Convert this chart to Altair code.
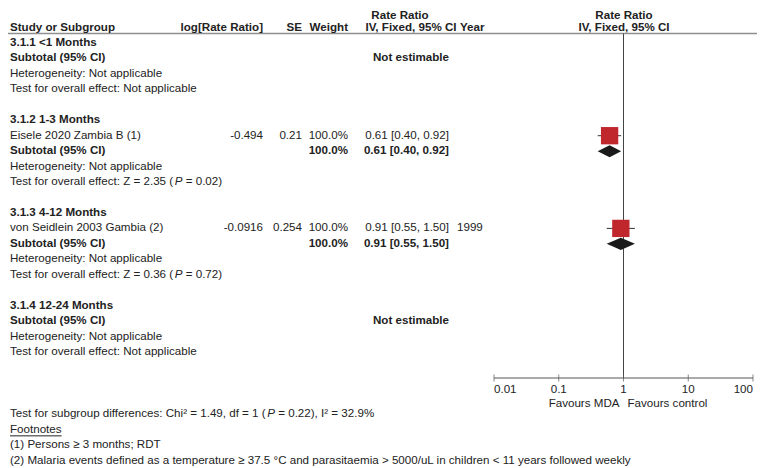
import altair as alt
import pandas as pd

# ---------------- data ----------------
group_titles = ["3.1.1 <1 Months", "3.1.2 1-3 Months", "3.1.3 4-12 Months", "3.1.4 12-24 Months"]
group_rows = [0, 5, 11, 17]

study_names = ["Eisele 2020 Zambia B (1)", "von Seidlein 2003 Gambia (2)"]
study_rows = [6, 12]
study_log_rr = ["-0.494", "-0.0916"]
study_se = ["0.21", "0.254"]
study_weight = ["100.0%", "100.0%"]
study_ci_text = ["0.61 [0.40, 0.92]", "0.91 [0.55, 1.50]"]
study_year = ["", "1999"]
study_rr = [0.61, 0.91]
study_lo = [0.40, 0.55]
study_hi = [0.92, 1.50]

subtotal_rows = [1, 7, 13, 18]
subtotal_weight = ["", "100.0%", "100.0%", ""]
subtotal_ci_text = ["Not estimable", "0.61 [0.40, 0.92]", "0.91 [0.55, 1.50]", "Not estimable"]

pooled_rows = [7, 13]
pooled_rr = [0.61, 0.91]
pooled_lo = [0.40, 0.55]
pooled_hi = [0.92, 1.50]

het_rows = [2, 8, 14, 19]
het_text = ["Heterogeneity: Not applicable"] * 4

plain_test_rows = [3, 20]
plain_test_text = ["Test for overall effect: Not applicable"] * 2

p_rows = [9, 15, 24]
p_prefix = ["Test for overall effect: Z = 2.35 (",
            "Test for overall effect: Z = 0.36 (",
            "Test for subgroup differences: Chi² = 1.49, df = 1 ("]
p_suffix = ["= 0.02)", "= 0.72)", "= 0.22), I² = 32.9%"]

footnote_title = "Footnotes"
footnote_title_row = 25
footnote_rows = [26, 27]
footnote_text = ["(1) Persons ≥ 3 months; RDT",
                 "(2) Malaria events defined as a temperature ≥ 37.5 °C and parasitaemia > 5000/uL in children < 11 years followed weekly"]

axis_ticks = [0.01, 0.1, 1, 10, 100]
axis_labels = ["0.01", "0.1", "1", "10", "100"]
null_value = [1]
favours_left = ["Favours MDA"]
favours_right = ["Favours control"]

# ---------------- style ----------------
FONT = "Liberation Sans"
FS = 11.6
TXT = "#222222"
AXC = "#555555"
W, H, PB = 749, 370, 88
DH = 0.39  # half height of diamond in row units

# Arial / Liberation Sans advance widths (1/1000 em)
AW = {' ': 278, '(': 333, ')': 333, '.': 278, ',': 278, ':': 278, '=': 584, '%': 889,
      '²': 333, '≥': 549, '°': 400, '<': 584, '>': 584, '/': 278, ';': 278, '[': 278,
      ']': 278, '-': 333}
for d in "0123456789":
    AW[d] = 556
AW.update(dict(zip("ABCDEFGHIJKLMNOPQRSTUVWXYZ",
                   [667, 667, 722, 722, 667, 611, 778, 722, 278, 500, 667, 556, 833, 722, 778,
                    667, 778, 722, 667, 611, 722, 667, 944, 667, 667, 611])))
AW.update(dict(zip("abcdefghijklmnopqrstuvwxyz",
                   [556, 556, 500, 556, 556, 278, 556, 556, 222, 222, 500, 222, 833, 556, 556,
                    556, 556, 333, 500, 278, 556, 500, 722, 500, 500, 500])))


def tw(s):
    return sum(AW.get(c, 556) for c in s) * FS / 1000.0


xscale = alt.Scale(type="log", domain=[0.01, 100], range=[486, 745])
yscale = alt.Scale(domain=[0, 20, 27], range=[35, 344, 453])

X_LEFT = 2
X_LOGRR = 255
X_SE = 294
X_WEIGHT = 340
X_CI = 441
X_CI_CENTER = 403
X_YEAR = 449
X_YEAR_HEAD = 452
X_FOREST = 616
Y_HEAD1 = 10.5
Y_HEAD2 = 22.5
Y_RULE = 25.5
Y_AXIS_LABEL = 382
Y_FAVOURS = 396


def tlayer(df, x, align="left", bold=False, italic=False, y=None, baseline="middle"):
    enc = dict(text="t:N", x=alt.value(x))
    if y is None:
        enc["y"] = alt.Y("row:Q", scale=yscale, axis=None)
    else:
        enc["y"] = alt.value(y)
    return alt.Chart(df).mark_text(
        align=align, baseline=baseline, font=FONT, fontSize=FS,
        fontWeight="bold" if bold else "normal",
        fontStyle="italic" if italic else "normal", color=TXT
    ).encode(**enc)


def rows_df(rows, texts):
    return pd.DataFrame({"row": rows, "t": texts})


def xlayer(df, mark):
    return alt.Chart(df).mark_text(**mark).encode(
        x=alt.X("v:Q", scale=xscale, axis=None), text="t:N")


layers = []

# header rule and vertical null line
one = pd.DataFrame({"v": null_value})
layers.append(alt.Chart(one).mark_rule(color="#8f8f8f", strokeWidth=1.5).encode(
    x=alt.value(0), x2=alt.value(W), y=alt.value(Y_RULE)))
layers.append(alt.Chart(one).mark_rule(color="#444444", strokeWidth=1).encode(
    x=alt.X("v:Q", scale=xscale, axis=None), y=alt.value(Y_RULE), y2=alt.value(H)))

# manual log axis
layers.append(alt.Chart(pd.DataFrame({"a": [axis_ticks[0]], "b": [axis_ticks[-1]]})).mark_rule(
    color=AXC, strokeWidth=1).encode(
    x=alt.X("a:Q", scale=xscale, axis=None), x2="b:Q", y=alt.value(H)))
layers.append(alt.Chart(pd.DataFrame({"v": axis_ticks})).mark_tick(
    orient="vertical", size=7, thickness=1, color=AXC).encode(
    x=alt.X("v:Q", scale=xscale, axis=None), y=alt.value(H)))
lab = pd.DataFrame({"v": axis_ticks, "t": axis_labels})
base_mark = dict(baseline="middle", font=FONT, fontSize=FS, color=TXT)
layers.append(xlayer(lab.iloc[[0]], dict(align="left", **base_mark)).encode(y=alt.value(Y_AXIS_LABEL)))
layers.append(xlayer(lab.iloc[1:-1], dict(align="center", **base_mark)).encode(y=alt.value(Y_AXIS_LABEL)))
layers.append(xlayer(lab.iloc[[-1]], dict(align="right", **base_mark)).encode(y=alt.value(Y_AXIS_LABEL)))

# favours labels
layers.append(xlayer(pd.DataFrame({"v": null_value, "t": favours_left}),
                     dict(align="right", dx=-4, **base_mark)).encode(y=alt.value(Y_FAVOURS)))
layers.append(xlayer(pd.DataFrame({"v": null_value, "t": favours_right}),
                     dict(align="left", dx=4, **base_mark)).encode(y=alt.value(Y_FAVOURS)))

# headers
hd = lambda s: pd.DataFrame({"t": [s]})
layers.append(tlayer(hd("Rate Ratio"), 392, "center", True, y=Y_HEAD1, baseline="alphabetic"))
layers.append(tlayer(hd("Rate Ratio"), X_FOREST, "center", True, y=Y_HEAD1, baseline="alphabetic"))
layers.append(tlayer(hd("Study or Subgroup"), X_LEFT, "left", True, y=Y_HEAD2, baseline="alphabetic"))
layers.append(tlayer(hd("log[Rate Ratio]"), X_LOGRR, "right", True, y=Y_HEAD2, baseline="alphabetic"))
layers.append(tlayer(hd("SE"), X_SE, "right", True, y=Y_HEAD2, baseline="alphabetic"))
layers.append(tlayer(hd("Weight"), X_WEIGHT, "right", True, y=Y_HEAD2, baseline="alphabetic"))
layers.append(tlayer(hd("IV, Fixed, 95% CI"), X_CI_CENTER, "center", True, y=Y_HEAD2, baseline="alphabetic"))
layers.append(tlayer(hd("Year"), X_YEAR_HEAD, "left", True, y=Y_HEAD2, baseline="alphabetic"))
layers.append(tlayer(hd("IV, Fixed, 95% CI"), X_FOREST, "center", True, y=Y_HEAD2, baseline="alphabetic"))

# left column
layers.append(tlayer(rows_df(group_rows, group_titles), X_LEFT, bold=True))
layers.append(tlayer(rows_df(subtotal_rows, ["Subtotal (95% CI)"] * len(subtotal_rows)), X_LEFT, bold=True))
layers.append(tlayer(rows_df(study_rows, study_names), X_LEFT))
layers.append(tlayer(rows_df(het_rows, het_text), X_LEFT))
layers.append(tlayer(rows_df(plain_test_rows, plain_test_text), X_LEFT))
for r, pre, suf in zip(p_rows, p_prefix, p_suffix):
    x1 = X_LEFT + tw(pre)
    x2 = x1 + tw("P") + tw(" ")
    layers.append(tlayer(rows_df([r], [pre]), X_LEFT))
    layers.append(tlayer(rows_df([r], ["P"]), round(x1, 1), italic=True))
    layers.append(tlayer(rows_df([r], [suf]), round(x2, 1)))

# study columns
layers.append(tlayer(rows_df(study_rows, study_log_rr), X_LOGRR, "right"))
layers.append(tlayer(rows_df(study_rows, study_se), X_SE, "right"))
layers.append(tlayer(rows_df(study_rows, study_weight), X_WEIGHT, "right"))
layers.append(tlayer(rows_df(study_rows, study_ci_text), X_CI, "right"))
layers.append(tlayer(rows_df(study_rows, study_year), X_YEAR, "left"))

# subtotal columns
est = [(r, w, c) for r, w, c in zip(subtotal_rows, subtotal_weight, subtotal_ci_text) if c != "Not estimable"]
nest = [(r, c) for r, c in zip(subtotal_rows, subtotal_ci_text) if c == "Not estimable"]
layers.append(tlayer(rows_df([e[0] for e in est], [e[1] for e in est]), X_WEIGHT, "right", True))
layers.append(tlayer(rows_df([e[0] for e in est], [e[2] for e in est]), X_CI, "right", True))
layers.append(tlayer(rows_df([n[0] for n in nest], [n[1] for n in nest]), X_CI_CENTER, "center", True))

# footnotes
layers.append(tlayer(rows_df([footnote_title_row], [footnote_title]), X_LEFT))
layers.append(alt.Chart(rows_df([footnote_title_row], [footnote_title])).mark_rule(
    color=TXT, strokeWidth=1, yOffset=6).encode(
    x=alt.value(X_LEFT), x2=alt.value(X_LEFT + tw(footnote_title)),
    y=alt.Y("row:Q", scale=yscale, axis=None)))
layers.append(tlayer(rows_df(footnote_rows, footnote_text), X_LEFT))

# forest marks
sdf = pd.DataFrame({"row": study_rows, "rr": study_rr, "lo": study_lo, "hi": study_hi})
layers.append(alt.Chart(sdf).mark_rule(color="#333333", strokeWidth=1).encode(
    x=alt.X("lo:Q", scale=xscale, axis=None), x2="hi:Q",
    y=alt.Y("row:Q", scale=yscale, axis=None)))
layers.append(alt.Chart(sdf).mark_square(size=300, color="#c0272d", opacity=1).encode(
    x=alt.X("rr:Q", scale=xscale, axis=None), y=alt.Y("row:Q", scale=yscale, axis=None)))

dia = []
for g, (r, m, lo, hi) in enumerate(zip(pooled_rows, pooled_rr, pooled_lo, pooled_hi)):
    dia += [dict(g=g, x=lo, y=r, y2=r), dict(g=g, x=m, y=r - DH, y2=r + DH), dict(g=g, x=hi, y=r, y2=r)]
layers.append(alt.Chart(pd.DataFrame(dia)).mark_area(orient="vertical", color="#1a1a1a", opacity=1).encode(
    x=alt.X("x:Q", scale=xscale, axis=None), y=alt.Y("y:Q", scale=yscale, axis=None),
    y2="y2:Q", detail="g:N"))

chart = alt.layer(*layers).properties(
    width=W, height=H, autosize=alt.AutoSizeParams(type="none"),
    padding={"left": 0, "top": 0, "right": 0, "bottom": PB}
).configure_view(stroke=None)

chart.save("out.html", embed_options={"renderer": "svg", "actions": False})
